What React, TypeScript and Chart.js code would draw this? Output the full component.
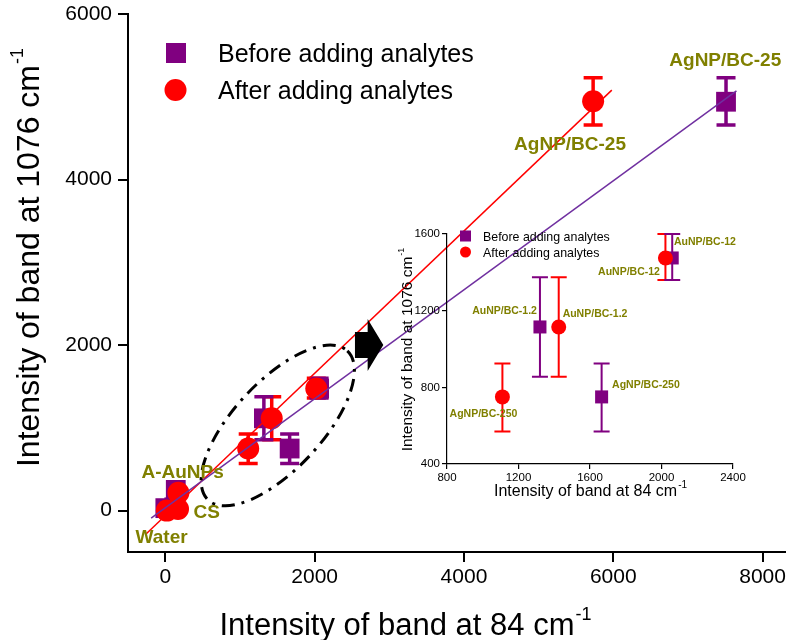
import React, { useEffect, useRef } from "react";
import { Chart, registerables } from "chart.js";
Chart.register(...registerables);

const FONT = '"Liberation Sans", Arial, Helvetica, sans-serif';
const PURPLE = "#800080";
const RED = "#ff0000";
const OLIVE = "#808000";
const PURPLE_LINE = "#7030A0";

// ---- data ----
const sampleNames = ["Water", "CS", "A-AuNPs", "AgNP/BC-250", "AuNP/BC-1.2", "AuNP/BC-12", "AgNP/BC-25"];
const beforeX = [0, 120, 140, 1665, 1320, 2060, 7510];
const beforeY = [30, 40, 250, 750, 1115, 1475, 4940];
const beforeErrLow: (number | null)[] = [null, null, null, 570, 855, 1360, 4660];
const beforeErrHigh: (number | null)[] = [null, null, null, 925, 1375, 1600, 5230];
const afterX = [20, 170, 175, 1110, 1425, 2022, 5730];
const afterY = [0, 20, 215, 750, 1115, 1475, 4945];
const afterErrLow: (number | null)[] = [null, null, null, 570, 855, 1360, 4660];
const afterErrHigh: (number | null)[] = [null, null, null, 925, 1375, 1600, 5230];
const beforeFitX = [-190, 7650];
const beforeFitY = [-90, 5070];
const afterFitX = [-255, 5980];
const afterFitY = [-280, 5080];
const insetIdx = [3, 4, 5];
const mainXTicks = [0, 2000, 4000, 6000, 8000];
const mainYTicks = [0, 2000, 4000, 6000];
const insetXTicks = [800, 1200, 1600, 2000, 2400];
const insetYTicks = [400, 800, 1200, 1600];
const legendLabels = ["Before adding analytes", "After adding analytes"];
const xTitle = "Intensity of band at 84 cm";
const yTitle = "Intensity of band at 1076 cm";
const titleSup = "-1";

// label anchors (data units)
const mainLabels = [
  { i: 6, x: 7500, y: 5436 },
  { i: 6, x: 5421, y: 4415 },
  { i: 2, x: 232, y: 452 },
  { i: 1, x: 554, y: -28 },
  { i: 0, x: -50, y: -328 },
];
const insetLabels = [
  { i: 5, x: 2243, y: 1558 },
  { i: 5, x: 1818, y: 1402 },
  { i: 4, x: 1122, y: 1196 },
  { i: 4, x: 1628, y: 1180 },
  { i: 3, x: 1913, y: 810 },
  { i: 3, x: 1004, y: 661 },
];

const pts = (xs: number[], ys: number[], idx?: number[]) =>
  (idx ?? xs.map((_, i) => i)).map((i) => ({ x: xs[i], y: ys[i] }));
const pick = (arr: (number | null)[], idx?: number[]) => (idx ? idx.map((i) => arr[i]) : arr);

function drawSupText(ctx: CanvasRenderingContext2D, text: string, sup: string, cx: number, cy: number, size: number, supSize: number, rotate: boolean) {
  ctx.save();
  ctx.translate(cx, cy);
  if (rotate) ctx.rotate(-Math.PI / 2);
  ctx.fillStyle = "#000";
  ctx.textAlign = "left";
  ctx.textBaseline = "alphabetic";
  ctx.font = `${size}px ${FONT}`;
  const w1 = ctx.measureText(text).width;
  ctx.font = `${supSize}px ${FONT}`;
  const w2 = ctx.measureText(sup).width;
  const start = -(w1 + w2) / 2;
  ctx.font = `${size}px ${FONT}`;
  ctx.fillText(text, start, 0);
  ctx.font = `${supSize}px ${FONT}`;
  ctx.fillText(sup, start + w1 + 1, -size * 0.5);
  ctx.restore();
}

function errorBarPlugin(lineWidth: number, cap: number) {
  return {
    id: "errorBars",
    beforeDatasetsDraw(chart: any) {
      const ctx = chart.ctx;
      const xs = chart.scales.x;
      const ys = chart.scales.y;
      chart.data.datasets.forEach((ds: any) => {
        if (!ds.errLow) return;
        ctx.save();
        ctx.strokeStyle = ds.errColor;
        ctx.lineWidth = lineWidth;
        ds.data.forEach((p: any, j: number) => {
          const lo = ds.errLow[j];
          const hi = ds.errHigh[j];
          if (lo == null || hi == null) return;
          const px = xs.getPixelForValue(p.x);
          const pl = ys.getPixelForValue(lo);
          const ph = ys.getPixelForValue(hi);
          ctx.beginPath();
          ctx.moveTo(px, pl);
          ctx.lineTo(px, ph);
          ctx.moveTo(px - cap / 2, pl);
          ctx.lineTo(px + cap / 2, pl);
          ctx.moveTo(px - cap / 2, ph);
          ctx.lineTo(px + cap / 2, ph);
          ctx.stroke();
        });
        ctx.restore();
      });
    },
  };
}

function axisCfg(ticks: number[], min: number, max: number, fit: (s: any) => void, fontSize: number, tickLen: number, lw: number, pad: number) {
  return {
    type: "linear" as const,
    min,
    max,
    afterBuildTicks: (s: any) => {
      s.ticks = ticks.map((v) => ({ value: v }));
    },
    afterFit: (s: any) => {
      fit(s);
      s.paddingTop = 0;
      s.paddingBottom = 0;
      s.paddingLeft = 0;
      s.paddingRight = 0;
    },
    grid: { display: true, drawOnChartArea: false, drawTicks: true, tickLength: tickLen, color: "#000", lineWidth: lw },
    border: { display: true, color: "#000", width: lw },
    ticks: {
      font: { family: FONT, size: fontSize, lineHeight: 1 },
      color: "#000",
      padding: pad,
      maxRotation: 0,
      autoSkip: false,
      callback: (v: any) => String(v),
    },
    title: { display: false },
  };
}

const mainOverlay = {
  id: "mainOverlay",
  afterDatasetsDraw(chart: any) {
    const ctx: CanvasRenderingContext2D = chart.ctx;
    const xs = chart.scales.x;
    const ys = chart.scales.y;
    // dash-dot ellipse
    ctx.save();
    ctx.strokeStyle = "#000";
    ctx.lineWidth = 3;
    ctx.setLineDash([13, 7, 3, 7]);
    ctx.beginPath();
    ctx.ellipse(xs.getPixelForValue(1506), ys.getPixelForValue(1029), 102, 44, (-47 * Math.PI) / 180, 0, Math.PI * 2);
    ctx.stroke();
    ctx.restore();
    // black arrow
    const yc = ys.getPixelForValue(2000);
    const xb = xs.getPixelForValue(2540);
    const xh = xs.getPixelForValue(2710);
    const xt = xs.getPixelForValue(2920);
    ctx.save();
    ctx.fillStyle = "#000";
    ctx.beginPath();
    ctx.moveTo(xb, yc - 13);
    ctx.lineTo(xh, yc - 13);
    ctx.lineTo(xh, yc - 26);
    ctx.lineTo(xt, yc);
    ctx.lineTo(xh, yc + 26);
    ctx.lineTo(xh, yc + 13);
    ctx.lineTo(xb, yc + 13);
    ctx.closePath();
    ctx.fill();
    ctx.restore();
  },
  afterDraw(chart: any) {
    const ctx: CanvasRenderingContext2D = chart.ctx;
    const xs = chart.scales.x;
    const ys = chart.scales.y;
    ctx.save();
    ctx.font = `bold 19px ${FONT}`;
    ctx.fillStyle = OLIVE;
    ctx.textAlign = "center";
    ctx.textBaseline = "middle";
    mainLabels.forEach((l) => ctx.fillText(sampleNames[l.i], xs.getPixelForValue(l.x), ys.getPixelForValue(l.y)));
    // legend
    ctx.fillStyle = PURPLE;
    ctx.fillRect(166, 43, 20, 20);
    ctx.fillStyle = RED;
    ctx.beginPath();
    ctx.arc(175.5, 90, 11, 0, Math.PI * 2);
    ctx.fill();
    ctx.fillStyle = "#000";
    ctx.font = `25px ${FONT}`;
    ctx.textAlign = "left";
    ctx.textBaseline = "alphabetic";
    ctx.fillText(legendLabels[0], 218, 62);
    ctx.fillText(legendLabels[1], 218, 99);
    ctx.restore();
    drawSupText(ctx, xTitle, titleSup, 405, 635, 31, 18, false);
    drawSupText(ctx, yTitle, titleSup, 39, 258, 32, 18, true);
  },
};

const insetOverlay = {
  id: "insetOverlay",
  afterDraw(chart: any) {
    const ctx: CanvasRenderingContext2D = chart.ctx;
    const xs = chart.scales.x;
    const ys = chart.scales.y;
    ctx.save();
    ctx.font = `bold 10.5px ${FONT}`;
    ctx.fillStyle = OLIVE;
    ctx.textAlign = "center";
    ctx.textBaseline = "middle";
    insetLabels.forEach((l) => ctx.fillText(sampleNames[l.i], xs.getPixelForValue(l.x), ys.getPixelForValue(l.y)));
    // legend
    ctx.fillStyle = PURPLE;
    ctx.fillRect(75, 15.5, 11, 11);
    ctx.fillStyle = RED;
    ctx.beginPath();
    ctx.arc(80.5, 37, 5.5, 0, Math.PI * 2);
    ctx.fill();
    ctx.fillStyle = "#000";
    ctx.font = `12.4px ${FONT}`;
    ctx.textAlign = "left";
    ctx.textBaseline = "alphabetic";
    ctx.fillText(legendLabels[0], 98, 25.5);
    ctx.fillText(legendLabels[1], 98, 41.5);
    ctx.restore();
    drawSupText(ctx, xTitle, titleSup, 205, 281, 16, 10, false);
    drawSupText(ctx, yTitle, titleSup, 27, 135, 15.5, 9, true);
  },
};

export default function App() {
  const mainRef = useRef<HTMLCanvasElement>(null);
  const insetRef = useRef<HTMLCanvasElement>(null);

  useEffect(() => {
    const main = new Chart(mainRef.current!, {
      type: "scatter",
      data: {
        datasets: [
          { type: "line", label: "fit before", data: pts(beforeFitX, beforeFitY), borderColor: PURPLE_LINE, borderWidth: 1.5, pointRadius: 0, order: 0 } as any,
          { type: "line", label: "fit after", data: pts(afterFitX, afterFitY), borderColor: RED, borderWidth: 1.5, pointRadius: 0, order: 0 } as any,
          {
            label: legendLabels[1], data: pts(afterX, afterY), pointStyle: "circle", pointRadius: 11, backgroundColor: RED, borderWidth: 0, order: 1,
            errLow: afterErrLow, errHigh: afterErrHigh, errColor: RED,
          } as any,
          {
            label: legendLabels[0], data: pts(beforeX, beforeY), pointStyle: "rect", pointRadius: 14, backgroundColor: PURPLE, borderWidth: 0, order: 2,
            errLow: beforeErrLow, errHigh: beforeErrHigh, errColor: PURPLE,
          } as any,
        ],
      },
      options: {
        responsive: false,
        animation: false,
        events: [],
        layout: { padding: { top: 9, right: 15, left: 0, bottom: 0 } },
        plugins: { legend: { display: false }, tooltip: { enabled: false } },
        scales: {
          x: axisCfg(mainXTicks, -500, 8300, (s: any) => { s.height = 88; }, 21, 10, 2, 5),
          y: axisCfg(mainYTicks, -500, 6000, (s: any) => { s.width = 128; }, 21, 10, 2, 6),
        },
      } as any,
      plugins: [errorBarPlugin(3.5, 19), mainOverlay],
    });

    const inset = new Chart(insetRef.current!, {
      type: "scatter",
      data: {
        datasets: [
          {
            label: legendLabels[1], data: pts(afterX, afterY, insetIdx), pointStyle: "circle", pointRadius: 7.5, backgroundColor: RED, borderWidth: 0, order: 1,
            errLow: pick(afterErrLow, insetIdx), errHigh: pick(afterErrHigh, insetIdx), errColor: RED,
          } as any,
          {
            label: legendLabels[0], data: pts(beforeX, beforeY, insetIdx), pointStyle: "rect", pointRadius: 9.2, backgroundColor: PURPLE, borderWidth: 0, order: 2,
            errLow: pick(beforeErrLow, insetIdx), errHigh: pick(beforeErrHigh, insetIdx), errColor: PURPLE,
          } as any,
        ],
      },
      options: {
        responsive: false,
        animation: false,
        events: [],
        layout: { padding: { top: 19, right: 62, left: 0, bottom: 0 } },
        plugins: { legend: { display: false }, tooltip: { enabled: false } },
        scales: {
          x: axisCfg(insetXTicks, 800, 2400, (s: any) => { s.height = 41; }, 11.5, 5, 1.2, 3),
          y: axisCfg(insetYTicks, 400, 1600, (s: any) => { s.width = 62; }, 11.5, 5, 1.2, 2),
        },
      } as any,
      plugins: [errorBarPlugin(2, 16), insetOverlay],
    });

    return () => {
      main.destroy();
      inset.destroy();
    };
  }, []);

  return (
    <div style={{ position: "absolute", left: 0, top: 0, width: 800, height: 640, background: "#fff" }}>
      <canvas ref={mainRef} width={800} height={640} style={{ position: "absolute", left: 0, top: 0 }} />
      <canvas ref={insetRef} width={410} height={290} style={{ position: "absolute", left: 385, top: 215 }} />
    </div>
  );
}
